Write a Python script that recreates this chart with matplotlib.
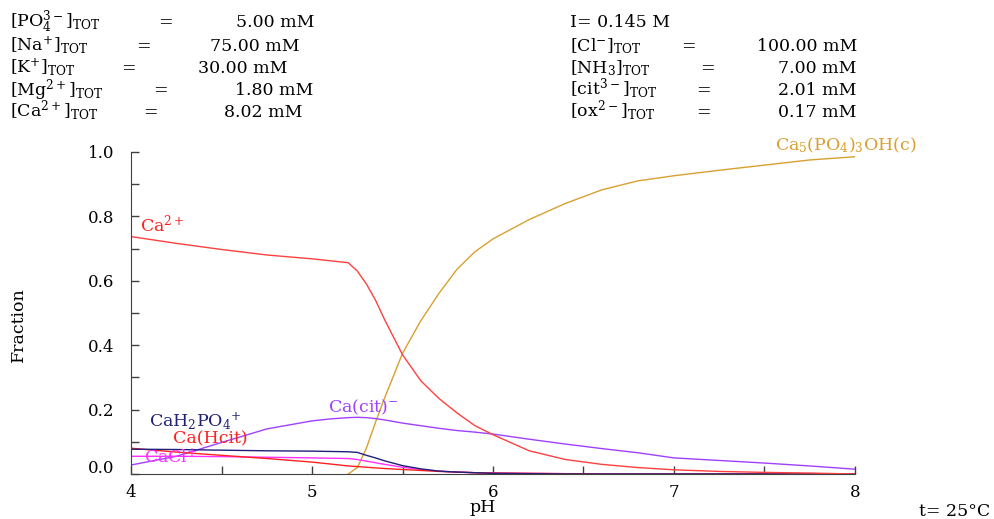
import matplotlib
matplotlib.use('Agg')
import matplotlib.pyplot as plt
import matplotlib.transforms as mtransforms
import numpy as np

plt.rcParams['font.family'] = ['DejaVu Serif']
plt.rcParams['mathtext.fontset'] = 'dejavuserif'

# pH grid and species fractions
ph = [4.0, 4.25, 4.5, 4.75, 5.0, 5.1, 5.2, 5.25, 5.3, 5.35, 5.4, 5.5, 5.6,
      5.7, 5.8, 5.9, 6.0, 6.2, 6.4, 6.6, 6.8, 7.0, 7.25, 7.5, 7.75, 8.0]

ca_free = [0.737, 0.716, 0.697, 0.680, 0.668, 0.662, 0.656, 0.630, 0.590, 0.540,
           0.480, 0.370, 0.290, 0.235, 0.190, 0.150, 0.122, 0.072, 0.045, 0.030,
           0.020, 0.013, 0.008, 0.005, 0.003, 0.0]
hap = [np.nan, np.nan, np.nan, np.nan, np.nan, np.nan, 0.0, 0.020, 0.080, 0.160,
       0.235, 0.375, 0.475, 0.560, 0.635, 0.690, 0.730, 0.790, 0.840, 0.882,
       0.910, 0.926, 0.943, 0.959, 0.975, 0.985]
ca_cit = [0.028, 0.055, 0.098, 0.140, 0.165, 0.171, 0.175, 0.176, 0.175, 0.172,
          0.168, 0.158, 0.150, 0.142, 0.135, 0.130, 0.124, 0.108, 0.093, 0.079,
          0.066, 0.050, 0.042, 0.034, 0.025, 0.015]
ca_h2po4 = [0.077, 0.076, 0.074, 0.072, 0.071, 0.070, 0.069, 0.067, 0.058, 0.050,
            0.041, 0.026, 0.016, 0.009, 0.006, 0.004, 0.002, 0.001, 0.0, 0.0,
            0.0, 0.0, 0.0, 0.0, 0.0, 0.0]
ca_hcit = [0.080, 0.068, 0.058, 0.048, 0.037, 0.031, 0.025, 0.023, 0.021, 0.019,
           0.017, 0.014, 0.011, 0.008, 0.006, 0.004, 0.003, 0.002, 0.001, 0.0,
           0.0, 0.0, 0.0, 0.0, 0.0, 0.0]
ca_cl = [0.055, 0.055, 0.054, 0.052, 0.050, 0.049, 0.048, 0.045, 0.040, 0.035,
         0.030, 0.021, 0.014, 0.009, 0.006, 0.004, 0.003, 0.002, 0.001, 0.0,
         0.0, 0.0, 0.0, 0.0, 0.0, 0.0]

left_lines = [r'[PO$_4^{3-}$]$_{\rm TOT}$', r'[Na$^{+}$]$_{\rm TOT}$',
              r'[K$^{+}$]$_{\rm TOT}$', r'[Mg$^{2+}$]$_{\rm TOT}$',
              r'[Ca$^{2+}$]$_{\rm TOT}$']
left_vals = ['5.00 mM', '75.00 mM', '30.00 mM', '1.80 mM', '8.02 mM']
right_lines = ['I= 0.145 M', r'[Cl$^{-}$]$_{\rm TOT}$', r'[NH$_3$]$_{\rm TOT}$',
               r'[cit$^{3-}$]$_{\rm TOT}$', r'[ox$^{2-}$]$_{\rm TOT}$']
right_vals = ['', '100.00 mM', '7.00 mM', '2.01 mM', '0.17 mM']

fig = plt.figure(figsize=(9.94, 5.19), dpi=100)
ax = fig.add_axes([0.132, 0.0867, 0.728, 0.6206])

ax.plot(ph, hap, color='#D8A030', lw=1.0)
ax.plot(ph, ca_cit, color='#A040FF', lw=1.0)
ax.plot(ph, ca_cl, color='#FF30FF', lw=1.0)
ax.plot(ph, ca_hcit, color='#FF2020', lw=1.0)
ax.plot(ph, ca_h2po4, color='#20207A', lw=1.0)
ax.plot(ph, ca_free, color='#FF4040', lw=1.0)

# species labels
fs = 12.5
ax.text(4.05, 0.776, r'Ca$^{2+}$', color='#FF2020', fontsize=fs, va='center')
ax.text(7.56, 1.02, r'Ca$_5$(PO$_4$)$_3$OH(c)', color='#D8A030', fontsize=fs, va='center')
ax.text(5.09, 0.208, r'Ca(cit)$^{-}$', color='#A040FF', fontsize=fs, va='center')
ax.text(4.10, 0.165, r'CaH$_2$PO$_4$$^{+}$', color='#20207A', fontsize=fs, va='center')
ax.text(4.23, 0.110, 'Ca(Hcit)', color='#FF2020', fontsize=fs, va='center')
ax.text(4.07, 0.052, r'CaCl$^{+}$', color='#FF30FF', fontsize=fs, va='center')

ax.set_xlim(4, 8)
ax.set_ylim(0, 1.0)
ax.set_xticks([4, 5, 6, 7, 8])
ax.set_xticks([4.5, 5.5, 6.5, 7.5], minor=True)
ax.set_yticks([0.0, 0.2, 0.4, 0.6, 0.8, 1.0])
ax.set_yticks([0.1, 0.3, 0.5, 0.7, 0.9], minor=True)
ax.set_yticklabels(['0.0', '0.2', '0.4', '0.6', '0.8', '1.0'])
ax.tick_params(which='both', direction='in', length=6, width=1, color='#404040',
               labelsize=12)
ax.tick_params(axis='y', pad=12)
ax.tick_params(axis='x', pad=7)
for s in ['top', 'right']:
    ax.spines[s].set_visible(False)
for s in ['left', 'bottom']:
    ax.spines[s].set_color('#404040')

# the 0.0 label sits a bit above its tick in the original
lab0 = ax.yaxis.get_major_ticks()[0].label1
lab0.set_transform(lab0.get_transform() +
                   mtransforms.ScaledTranslation(0, 0.08, fig.dpi_scale_trans))

ax.set_xlabel('pH', fontsize=12.5)
ax.set_ylabel('Fraction', fontsize=12.5)
ax.xaxis.label.set_va('center')
ax.yaxis.label.set_va('center')
ax.xaxis.set_label_coords(0.486, -0.105)
ax.yaxis.set_label_coords(-0.156, 0.463)

fig.text(0.996, 0.015, 't= 25°C', fontsize=12.5, ha='right', va='center')

# header with total concentrations
base_y = [27, 51, 73, 95, 117]
left_eq = [165, 143, 128, 160, 150]
left_end = [315, 300, 287, 313, 303]
right_eq = [0, 688, 707, 703, 703]
hs = 12.5
for txt, val, y, xq, xe in zip(left_lines, left_vals, base_y, left_eq, left_end):
    fig.text(10 / 994, 1 - y / 519, txt, fontsize=hs, va='baseline')
    fig.text(xq / 994, 1 - y / 519, '=', fontsize=hs, va='baseline', ha='center')
    fig.text(xe / 994, 1 - y / 519, val, fontsize=hs, va='baseline', ha='right')
for txt, val, y, xq in zip(right_lines, right_vals, base_y, right_eq):
    fig.text(570 / 994, 1 - y / 519, txt, fontsize=hs, va='baseline')
    if val:
        fig.text(xq / 994, 1 - y / 519, '=', fontsize=hs, va='baseline', ha='center')
        fig.text(857 / 994, 1 - y / 519, val, fontsize=hs, va='baseline', ha='right')

fig.savefig('out.png', dpi=100)
